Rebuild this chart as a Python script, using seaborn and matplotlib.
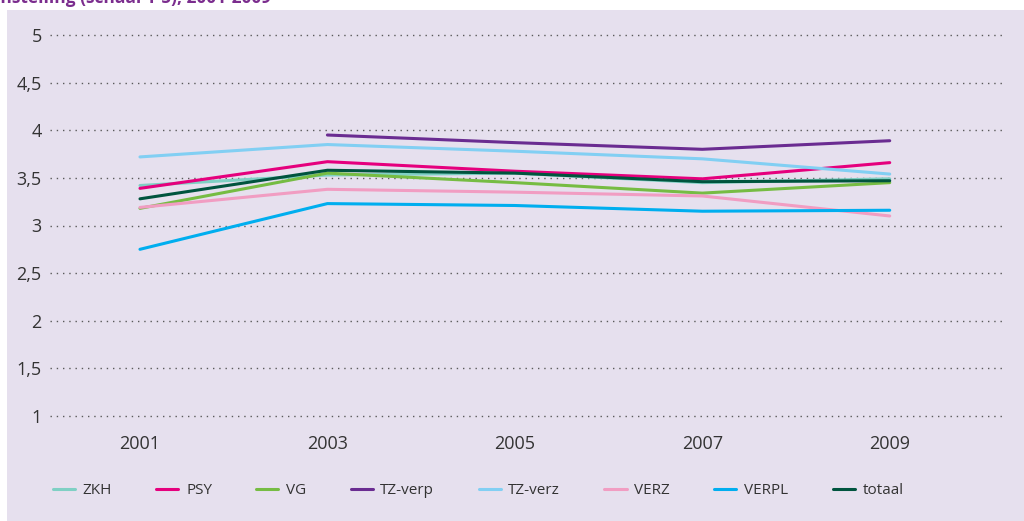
import numpy as np
import pandas as pd
import matplotlib.pyplot as plt
import seaborn as sns
from matplotlib.patches import Rectangle

years = [2001, 2003, 2005, 2007, 2009]
zkh = [3.42, 3.53, 3.55, 3.45, 3.49]
psy = [3.39, 3.67, 3.57, 3.49, 3.66]
vg = [3.18, 3.55, 3.45, 3.34, 3.45]
tz_verp = [np.nan, 3.95, 3.87, 3.80, 3.89]
tz_verz = [3.72, 3.85, 3.78, 3.70, 3.54]
verz = [3.19, 3.38, 3.35, 3.31, 3.10]
verpl = [2.75, 3.23, 3.21, 3.15, 3.16]
totaal = [3.28, 3.58, 3.55, 3.46, 3.47]

series = {"ZKH": zkh, "PSY": psy, "VG": vg, "TZ-verp": tz_verp,
          "TZ-verz": tz_verz, "VERZ": verz, "VERPL": verpl, "totaal": totaal}
colors = ["#7fd0c4", "#e5007d", "#76bc43", "#6a2c91",
          "#82cff3", "#f19dc2", "#00aeef", "#00543e"]

yticks = [1, 1.5, 2, 2.5, 3, 3.5, 4, 4.5, 5]
ytick_labels = ["1", "1,5", "2", "2,5", "3", "3,5", "4", "4,5", "5"]

rows = []
for name, vals in series.items():
    for yr, v in zip(years, vals):
        rows.append({"jaar": yr, "score": v, "instelling": name})
df = pd.DataFrame(rows).dropna()

sns.set_style("white")
plt.rcParams["font.family"] = ["Open Sans", "DejaVu Sans"]

bg = "#e6e0ee"
fig = plt.figure(figsize=(10.24, 5.21), dpi=100)
fig.patch.set_facecolor("white")
fig.patches.append(Rectangle((7 / 1024, 0), 1, 1 - 10 / 521, transform=fig.transFigure,
                             facecolor=bg, edgecolor="none", zorder=-10))
# title is cut off at the top edge, as in the source image
fig.text(-0.005, 1 - 3 / 521, "instelling (schaal 1-5), 2001-2009", fontsize=12.5,
         fontweight="bold", color="#7b2d8e", va="baseline", ha="left")

ax = fig.add_axes([50 / 1024, 100.24 / 521, 955 / 1024, (521 - 30.24) / 521 - 100.24 / 521])
ax.set_facecolor(bg)
ax.patch.set_alpha(0)

sns.lineplot(data=df, x="jaar", y="score", hue="instelling", palette=colors,
             hue_order=list(series.keys()), linewidth=2.2, ax=ax, legend=False)

ax.set_xlim(2000.04, 2010.23)
ax.set_ylim(0.95, 5.05)
ax.set_yticks(yticks)
ax.set_yticklabels(ytick_labels)
ax.set_xticks(years)
ax.set_xticklabels([str(y) for y in years])
ax.tick_params(axis="y", length=0, pad=6, labelsize=13, labelcolor="#333333")
ax.tick_params(axis="x", length=0, pad=10, labelsize=13, labelcolor="#333333")
ax.yaxis.grid(True, linestyle=(0, (1, 3.5)), linewidth=1.0, color="#5a5a5a")
ax.xaxis.grid(False)
for s in ax.spines.values():
    s.set_visible(False)
ax.set_xlabel("")
ax.set_ylabel("")

handles = [plt.Line2D([], [], color=c, linewidth=2.2) for c in colors]
fig.legend(handles, list(series.keys()), loc="center left",
           bbox_to_anchor=(39 / 1024, 1 - 491 / 521), ncol=8, frameon=False,
           fontsize=11, handlelength=1.45, handletextpad=0.5, columnspacing=2.9,
           labelcolor="#333333")

fig.savefig("out.png", dpi=100)
